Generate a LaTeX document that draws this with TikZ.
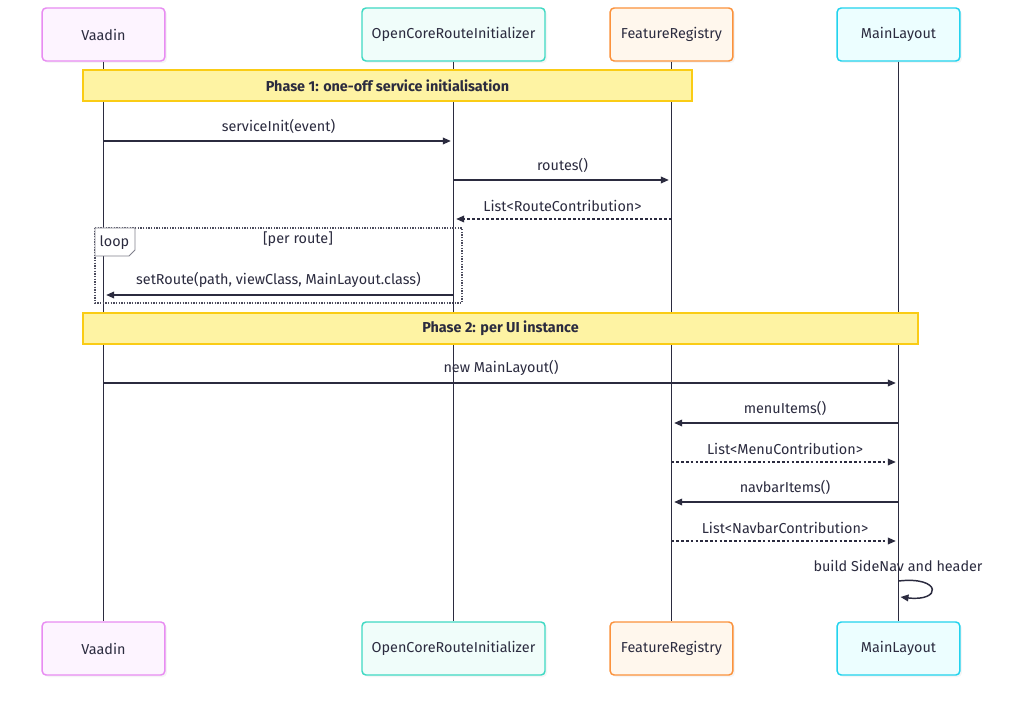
\documentclass[tikz,border=0pt]{standalone}
\usepackage{fontspec}
\setmainfont{Fira Sans}
\usetikzlibrary{arrows.meta,positioning,shadows}
\definecolor{ink}{HTML}{2B2B3F}
\definecolor{vaadinline}{HTML}{E88CF2}
\definecolor{vaadinfill}{HTML}{FDF4FF}
\definecolor{initline}{HTML}{3FD9C3}
\definecolor{initfill}{HTML}{F0FDFA}
\definecolor{regline}{HTML}{FB923C}
\definecolor{regfill}{HTML}{FFF7ED}
\definecolor{layline}{HTML}{22D3EE}
\definecolor{layfill}{HTML}{ECFEFF}
\definecolor{noteline}{HTML}{FACC15}
\definecolor{notefill}{HTML}{FEF3A3}
\newcommand{\seqfont}{\fontsize{10.8}{13}\selectfont}

\begin{document}
\begin{tikzpicture}[x=0.75pt,y=-0.75pt,
		actor/.style={draw, rounded corners=3pt, line width=1.1pt, minimum width=92pt,
				minimum height=39.75pt, font=\seqfont, text=ink,
				drop shadow={opacity=0.08, shadow xshift=1.5pt, shadow yshift=-1.5pt}},
		note/.style={draw=noteline, fill=notefill, line width=0.9pt, font=\seqfont\bfseries,
				text=ink, minimum height=23.25pt, inner sep=0pt},
		life/.style={ink, line width=1.2pt},
		msg/.style={ink, line width=1.1pt, -{Triangle[length=6pt,width=5pt]}, shorten >=2pt},
		reply/.style={msg, dash pattern=on 2pt off 1.6pt},
		lbl/.style={font=\seqfont, text=ink, above=1.5pt},
		loopbox/.style={ink!85, line width=0.9pt, dash pattern=on 1pt off 1pt},
		tab/.style={draw=ink!60, fill=white, line width=0.7pt}
		]
		\fill[white] (0,0) rectangle (1024,709);
		\useasboundingbox (0,0) rectangle (1024,709);
		% participants
		\node[actor, draw=vaadinline, fill=vaadinfill] (vaadin) at (103.5,34.5) {Vaadin};
		\node[actor, draw=initline, fill=initfill, minimum width=137.25pt] (init) at (453.5,34.5) {OpenCoreRouteInitializer};
		\node[actor, draw=regline, fill=regfill] (registry) at (671.5,34.5) {FeatureRegistry};
		\node[actor, draw=layline, fill=layfill] (layout) at (898.5,34.5) {MainLayout};
		\node[actor, draw=vaadinline, fill=vaadinfill] (vaadin-b) at (103.5,648.5) {Vaadin};
		\node[actor, draw=initline, fill=initfill, minimum width=137.25pt] (init-b) at (453.5,648.5) {OpenCoreRouteInitializer};
		\node[actor, draw=regline, fill=regfill] (registry-b) at (671.5,648.5) {FeatureRegistry};
		\node[actor, draw=layline, fill=layfill] (layout-b) at (898.5,648.5) {MainLayout};
		\foreach \p in {vaadin, init, registry, layout}
		\draw[life] (\p.south) -- (\p-b.north);
		% notes
		\node[note, minimum width=456.75pt] (phase1) at (387.5,85.5) {Phase 1: one-off service initialisation};
		\node[note, minimum width=626.25pt] (phase2) at (500.5,328.5) {Phase 2: per UI instance};
		% loop frame
		\coordinate (loop-nw) at (95,228);
		\coordinate (loop-se) at (462,303);
		\draw[loopbox] (loop-nw) rectangle (loop-se);
		\draw[tab] (loop-nw) -- ++(40,0) -- ++(0,22) -- ++(-6,6) -- ++(-34,0) -- cycle;
		\node[font=\seqfont, text=ink] (looplbl) at (114.5,242.5) {loop};
		\node[font=\seqfont, text=ink] (cond) at (298,239.5) {[per route]};
		% messages
		\foreach \a/\b/\y/\t in {vaadin/init/141/{serviceInit(event)},
				init/registry/180/{routes()},
				init/vaadin/295/{setRoute(path, viewClass, MainLayout.class)},
				vaadin/layout/383/{new MainLayout()},
				layout/registry/423/{menuItems()},
				layout/registry/502/{navbarItems()}}
		{
			\coordinate (row) at (0,\y);
			\draw[msg] (\a |- row) -- node[lbl] {\t} (\b |- row);
		}
		\foreach \a/\b/\y/\t in {registry/init/219/{List<RouteContribution>},
				registry/layout/462/{List<MenuContribution>},
				registry/layout/541/{List<NavbarContribution>}}
		{
			\coordinate (row) at (0,\y);
			\draw[reply] (\a |- row) -- node[lbl] {\t} (\b |- row);
		}
		% self message
		\coordinate (self-out) at (0,581);
		\coordinate (self-in) at (0,597);
		\node[font=\seqfont, text=ink] (selflbl) at (898,566) {build SideNav and header};
		\draw[msg, shorten >=0pt] (layout |- self-out) .. controls (942,576) and (942,602) .. ([xshift=1.5pt]layout |- self-in);
	\end{tikzpicture}
\end{document}
